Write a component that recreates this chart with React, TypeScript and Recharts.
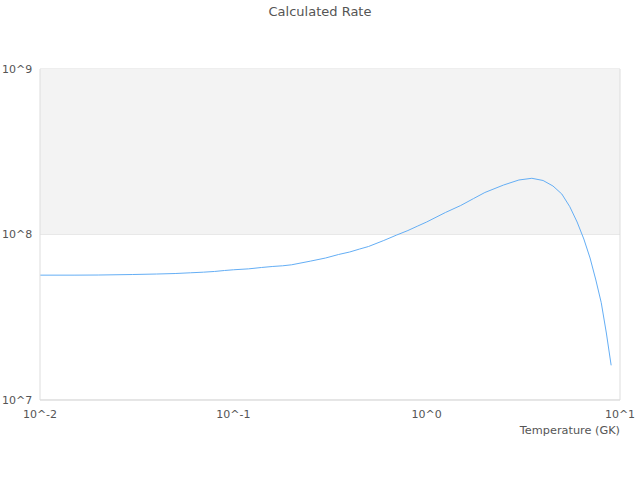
import React from "react";
import {
  LineChart, Line, XAxis, YAxis, CartesianGrid, ReferenceArea, ReferenceLine,
} from "recharts";

// temperature grid (GK) and rate
const temps = [
  0.01, 0.015, 0.02, 0.03, 0.04, 0.05, 0.06, 0.07, 0.08, 0.09,
  0.1, 0.12, 0.14, 0.16, 0.18, 0.2, 0.25, 0.3, 0.35, 0.4,
  0.45, 0.5, 0.6, 0.7, 0.8, 0.9, 1.0, 1.25, 1.5, 1.75,
  2.0, 2.5, 3.0, 3.5, 4.0, 4.5, 5.0, 5.5, 6.0, 6.5,
  7.0, 7.5, 8.0, 8.5, 9.0,
];
const rates = [
  5.68e7, 5.68e7, 5.69e7, 5.73e7, 5.77e7, 5.81e7, 5.87e7, 5.92e7, 5.98e7, 6.06e7,
  6.12e7, 6.2e7, 6.32e7, 6.41e7, 6.47e7, 6.56e7, 6.9e7, 7.21e7, 7.57e7, 7.84e7,
  8.17e7, 8.46e7, 9.2e7, 9.93e7, 1.057e8, 1.126e8, 1.19e8, 1.358e8, 1.497e8, 1.65e8,
  1.794e8, 1.991e8, 2.135e8, 2.186e8, 2.12e8, 1.964e8, 1.757e8, 1.472e8, 1.19e8, 9.39e7,
  7.21e7, 5.31e7, 3.87e7, 2.54e7, 1.62e7,
];
const xTicks = [0.01, 0.1, 1, 10];
const yTicks = [1e7, 1e8, 1e9];

const data = temps.map((t, i) => ({ t, rate: rates[i] }));

const FONT = "'DejaVu Sans', sans-serif";
const TEXT = "#555";
const BORDER = "#dddddd";

const pow = (v: number) => "10^" + Math.round(Math.log10(v));

const YTick = (props: any) => (
  <text x={2} y={props.y} dy="0.35em" textAnchor="start" fontSize={11} fill={TEXT} fontFamily={FONT}>
    {pow(props.payload.value)}
  </text>
);

const XTick = (props: any) => (
  <text x={props.x} y={414} dy="0.35em" textAnchor="middle" fontSize={11} fill={TEXT} fontFamily={FONT}>
    {pow(props.payload.value)}
  </text>
);

export default function App() {
  return (
    <div style={{ position: "absolute", left: 0, top: 0, width: 640, height: 480, fontFamily: FONT }}>
      <div style={{
        position: "absolute", top: 4, left: 0, width: 640, textAlign: "center",
        fontSize: 13, color: TEXT, lineHeight: "16px",
      }}>
        Calculated Rate
      </div>
      <LineChart width={640} height={480} data={data} margin={{ top: 69, right: 20, bottom: 50, left: 0 }}>
        <ReferenceArea y1={1e8} y2={1e9} fill="#f3f3f3" fillOpacity={1} stroke="none" ifOverflow="hidden" />
        <CartesianGrid stroke={BORDER} vertical={false} />
        <XAxis
          dataKey="t" type="number" scale="log" domain={[0.01, 10]} ticks={xTicks}
          allowDataOverflow tick={<XTick />} tickLine={false} axisLine={{ stroke: BORDER }} height={30}
        />
        <YAxis
          type="number" scale="log" domain={[1e7, 1e9]} ticks={yTicks}
          allowDataOverflow tick={<YTick />} tickLine={false} axisLine={{ stroke: BORDER }} width={40}
        />
        <ReferenceLine x={10} stroke={BORDER} />
        <Line
          type="linear" dataKey="rate" stroke="#64aef5" strokeWidth={1}
          dot={false} isAnimationActive={false}
        />
      </LineChart>
      <div style={{
        position: "absolute", top: 424, right: 20, fontSize: 11.3, color: TEXT, lineHeight: "14px",
      }}>
        Temperature (GK)
      </div>
    </div>
  );
}
